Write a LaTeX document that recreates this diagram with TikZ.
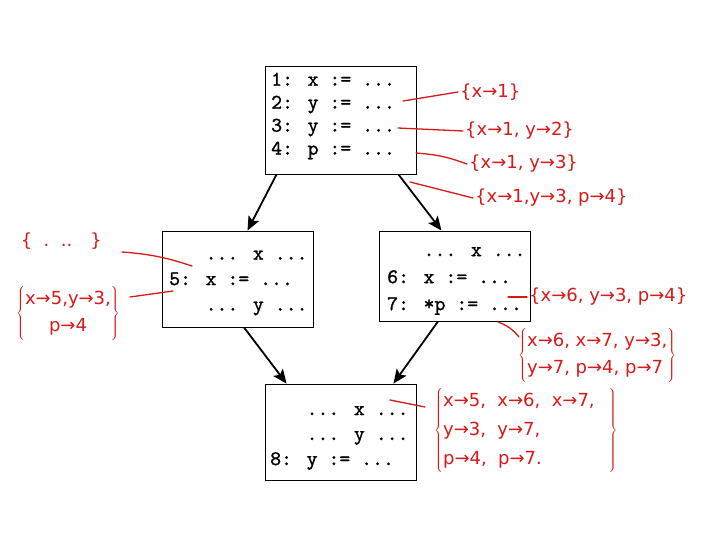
\documentclass[tikz,border=0pt]{standalone}
\usepackage{fontspec}
\usetikzlibrary{arrows.meta}
\newfontfamily\handfont{DejaVu Sans}
\newfontfamily\codefont[FakeBold=1.2]{lmmono10-regular.otf}
\definecolor{handred}{RGB}{215,25,25}
\begin{document}
\begin{tikzpicture}[x=1pt,y=-1pt,
  box/.style={draw=black, line width=0.9pt, inner sep=0pt},
  code/.style={font=\codefont\fontsize{20.8}{#1}\selectfont, align=left, anchor=west, inner sep=0pt},
  hand/.style={font=\handfont\fontsize{18}{#1}\selectfont, text=handred, inner sep=2pt},
  hand/.default=27pt,
  redline/.style={draw=handred, line width=1.3pt, line cap=round},
  arr/.style={-{Stealth[length=14pt,width=12pt,inset=3pt]}, line width=1.8pt}]
\useasboundingbox[fill=white] (0,0) rectangle (720,540);

% boxes
\node[box, minimum width=151pt, minimum height=108pt] (b1) at (340.5,120) {};
\node[code=23pt] (t1) at (271,116) {1: x := ...\\2: y := ...\\3: y := ...\\4: p := ...};
\node[box, minimum width=151pt, minimum height=96pt] (b5) at (237.5,279) {};
\node[code=25.5pt] (t5) at (169,283) {\hphantom{5: }... x ...\\5: x := ...\\\hphantom{5: }... y ...};
\node[box, minimum width=151pt, minimum height=90pt] (b6) at (454.5,276) {};
\node[code=27pt] (t6) at (387,281) {\hphantom{6: }... x ...\\6: x := ...\\7: *p := ...};
\node[box, minimum width=151pt, minimum height=96pt] (b8) at (340.5,432) {};
\node[code=25pt] (t8) at (270,438) {\hphantom{8: }... x ...\\\hphantom{8: }... y ...\\8: y := ...};

% arrows
\draw[arr] ([xshift=12pt]b1.south west) -- ([xshift=10pt]b5.north);
\draw[arr] ([xshift=-18pt]b1.south east) -- ([xshift=-13pt]b6.north);
\draw[arr] ([xshift=6.5pt]b5.south) -- ([xshift=22pt]b8.north west);
\draw[arr] ([xshift=-16.5pt]b6.south) -- ([xshift=-23pt]b8.north east);

% annotations
\node[hand, anchor=west] (a1) at (458,92) {\{x→1\}};
\node[hand, anchor=west] (a2) at (463,131) {\{x→1, y→2\}};
\node[hand, anchor=west] (a3) at (467,164) {\{x→1, y→3\}};
\node[hand, anchor=west] (a4) at (473,198) {\{x→1,y→3, p→4\}};
\node[hand, anchor=east] (a5) at (104,241) {\{\ \ .\ \ ..\quad \}};
\node[hand, align=center] (a6) at (68,313) {$\left\{\begin{tabular}{@{}c@{}}x→5,y→3,\\p→4\end{tabular}\right\}$};
\node[hand, anchor=west] (a7) at (527,297) {\{x→6, y→3, p→4\}};
\node[hand, anchor=west] (a8) at (516,355) {$\left\{\begin{tabular}{@{}l@{}}x→6, x→7, y→3,\\y→7, p→4, p→7\end{tabular}\right\}$};
\node[hand=29pt, anchor=west] (a9) at (432,430) {$\left\{\begin{tabular}{@{}l@{\hspace{14pt}}}x→5,\ \ x→6,\ \ x→7,\\y→3,\ \ y→7,\\p→4,\ \ p→7.\end{tabular}\right\}$};

\coordinate (c1) at (403,101);
\coordinate (c2) at (398,128);
\coordinate (c3) at (416,153);
\coordinate (c4) at (410,182);
\coordinate (c5) at (192,266);
\coordinate (c6) at (173,291);
\coordinate (c7) at (508,297);
\coordinate (c8) at (498,322);
\coordinate (c9) at (390,400);

\draw[redline] (c1) -- (a1.west);
\draw[redline] (c2) -- (a2.west);
\draw[redline] (c3) to[bend left=8] (a3.west);
\draw[redline] (c4) -- (a4.west);
\draw[redline] ([shift={(18,11)}]a5.east) to[bend left=7] (c5);
\draw[redline] (c6) -- ([shift={(8,-16)}]a6.east);
\draw[redline] (c7) -- (a7.west);
\draw[redline] (c8) to[bend left=15] ([shift={(3,-18)}]a8.west);
\draw[redline] (c9) -- ([shift={(-7,-23)}]a9.west);
\end{tikzpicture}
\end{document}
